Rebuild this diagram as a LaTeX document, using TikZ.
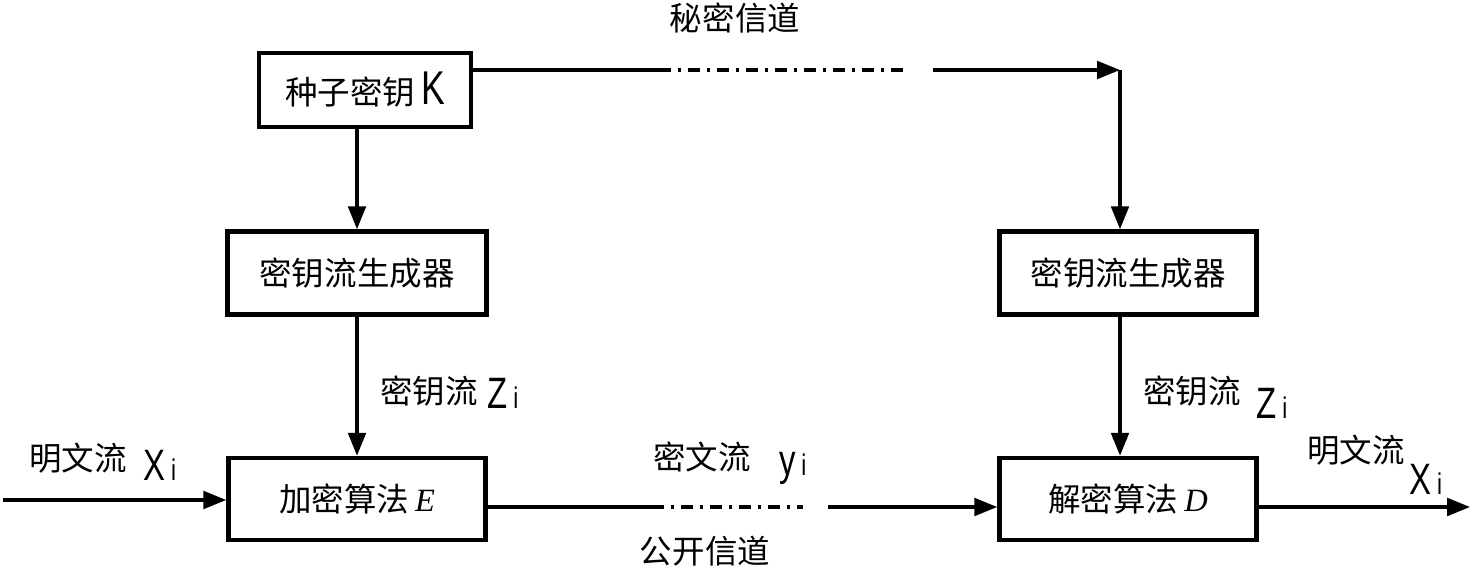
\documentclass[tikz,border=0pt]{standalone}
\usepackage{fontspec}
\setmainfont{Noto Sans CJK SC}
\newfontfamily\lsans[FakeStretch=0.75]{Liberation Sans}
\newfontfamily\tms{Liberation Serif}
\usetikzlibrary{arrows.meta, positioning, calc}
\newcommand{\varsub}[2]{{\lsans\fontsize{25}{25}\selectfont #1}\,{\lsans\fontsize{17}{17}\selectfont #2}}

\begin{document}
\begin{tikzpicture}[
  x=0.02cm, y=-0.02cm,
  font=\fontsize{18.5}{22}\selectfont,
  block/.style={
    rectangle, draw=black, line width=2.6pt,
    inner sep=0pt, align=center
  },
  link/.style={line width=1.9pt, draw=black},
  arr/.style={link, -{Triangle[length=13pt, width=10pt]}},
  chan/.style={link, dash pattern=on 7pt off 4pt on 1.5pt off 4pt},
  lbl/.style={inner sep=0pt},
]
\useasboundingbox (0,0) rectangle (1472,575);

%% Blocks
\node[block, minimum width=4.24cm, minimum height=1.48cm] (seed) at (365,90)
  {种子密钥\hspace{0.12cm}{\lsans\fontsize{27}{27}\selectfont K}};
\node[block, minimum width=5.18cm, minimum height=1.66cm] (genL) at (357,273) {密钥流生成器};
\node[block, minimum width=5.14cm, minimum height=1.66cm] (genR) at (1128,273) {密钥流生成器};
\node[block, minimum width=5.14cm, minimum height=1.64cm] (enc)  at (357,499)
  {加密算法\hspace{0.12cm}{\tms\itshape E}};
\node[block, minimum width=5.14cm, minimum height=1.64cm] (dec)  at (1128,499)
  {解密算法\hspace{0.12cm}{\tms\itshape D}};

%% Channel breaks
\coordinate (sc1) at (659,70);
\coordinate (sc2) at (906,70);
\coordinate (sc3) at (933,70);
\coordinate (tr)  at (1120,70);
\coordinate (pc1) at (652,507);
\coordinate (pc2) at (803,507);
\coordinate (pc3) at (828,507);
\coordinate (in)  at (3,500);
\coordinate (out) at (1470,507);

%% Secret channel
\draw[link] (seed.east |- sc1) -- (sc1);
\draw[chan] (sc1) -- (sc2);
\draw[arr]  (sc3) -- (tr);
\draw[arr]  (tr) -- (tr |- genR.north);

%% Key streams
\draw[arr] (genL.north |- seed.south) -- (genL.north);
\draw[arr] (genL.south) -- (enc.north);
\draw[arr] (tr |- genR.south) -- (tr |- dec.north);

%% Public channel
\draw[arr]  (in) -- (enc.west |- in);
\draw[link] (enc.east |- pc1) -- (pc1);
\draw[chan] (pc1) -- (pc2);
\draw[arr]  (pc3) -- (dec.west |- pc3);
\draw[arr]  (dec.east |- out) -- (out);

%% Labels
\node[lbl] (secret) at (735,18)  {秘密信道};
\node[lbl] (public) at (705,551) {公开信道};
\node[lbl] (pin)    at (78,458)  {明文流};
\node[lbl] (xin)    at (160,465) {\varsub{X}{i}};
\node[lbl] (zl)     at (429,391) {密钥流};
\node[lbl] (zli)    at (503,393) {\varsub{Z}{i}};
\node[lbl] (ct)     at (702,457) {密文流};
\node[lbl] (yi)     at (793,468) {\varsub{y}{i}};
\node[lbl] (zr)     at (1192,391) {密钥流};
\node[lbl] (zri)    at (1272,403) {\varsub{Z}{i}};
\node[lbl] (pout)   at (1356,450) {明文流};
\node[lbl] (xout)   at (1426,479) {\varsub{X}{i}};

\end{tikzpicture}
\end{document}
